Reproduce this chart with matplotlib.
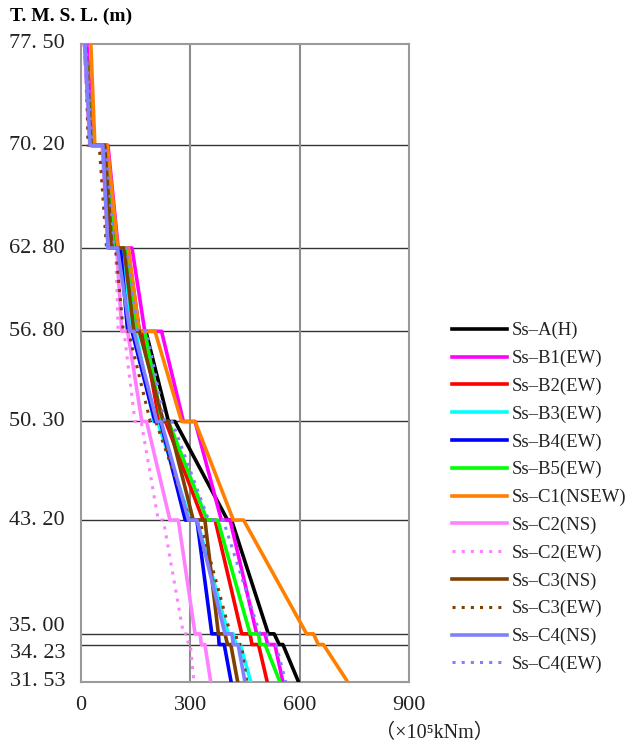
import matplotlib
matplotlib.use("Agg")
import matplotlib.pyplot as plt
from matplotlib.transforms import offset_copy

FONT = ['Liberation Serif', 'Noto Sans CJK JP', 'DejaVu Sans']
plt.rcParams['font.family'] = FONT

# Elevation levels (T.M.S.L., m)
levels = [77.50, 70.20, 62.80, 56.80, 50.30, 43.20, 35.00, 34.23, 31.53]
level_labels = ["77. 50", "70. 20", "62. 80", "56. 80", "50. 30", "43. 20", "35. 00", "34. 23", "31. 53"]

# Profile points: top, then (before step, after step) at each intermediate level, then bottom
elev = [77.50, 70.20, 70.20, 62.80, 62.80, 56.80, 56.80, 50.30, 50.30,
        43.20, 43.20, 35.00, 35.00, 34.23, 34.23, 31.53]

names = ["Ss–A(H)", "Ss–B1(EW)", "Ss–B2(EW)", "Ss–B3(EW)", "Ss–B4(EW)",
         "Ss–B5(EW)", "Ss–C1(NSEW)", "Ss–C2(NS)", "Ss–C2(EW)",
         "Ss–C3(NS)", "Ss–C3(EW)", "Ss–C4(NS)", "Ss–C4(EW)"]

ss_a   = [12, 30, 70, 95, 128, 160, 178, 240, 258, 402, 413, 514, 530, 544, 554, 597]
ss_b1  = [16, 34, 74, 102, 140, 175, 221, 281, 313, 385, 409, 482, 505, 512, 532, 554]
ss_b2  = [12, 28, 66, 88, 120, 150, 170, 215, 232, 335, 368, 441, 464, 469, 487, 511]
ss_b3  = [10, 26, 62, 82, 112, 140, 150, 200, 210, 300, 318, 404, 418, 425, 437, 466]
ss_b4  = [10, 25, 60, 80, 108, 128, 140, 203, 218, 286, 318, 359, 377, 379, 393, 412]
ss_b5  = [12, 29, 68, 90, 124, 152, 175, 222, 240, 346, 375, 464, 487, 491, 505, 546]
ss_c1  = [27, 38, 72, 101, 130, 160, 203, 276, 313, 418, 446, 619, 638, 651, 665, 732]
ss_c2n = [10, 24, 58, 75, 98, 112, 128, 167, 180, 244, 267, 313, 327, 330, 340, 356]
ss_c2e = [8, 22, 55, 72, 95, 102, 118, 148, 165, 212, 226, 281, 290, 295, 300, 310]
ss_c3n = [12, 28, 65, 85, 118, 145, 160, 226, 240, 308, 340, 377, 395, 402, 411, 430]
ss_c3e = [14, 19, 50, 70, 95, 116, 130, 190, 205, 300, 325, 410, 425, 430, 440, 455]
ss_c4n = [11, 25, 60, 74, 100, 134, 145, 208, 220, 295, 318, 395, 414, 418, 431, 450]
ss_c4e = [14, 30, 68, 92, 126, 155, 180, 230, 250, 350, 390, 491, 510, 515, 535, 562]

series = [ss_a, ss_b1, ss_b2, ss_b3, ss_b4, ss_b5, ss_c1, ss_c2n, ss_c2e,
          ss_c3n, ss_c3e, ss_c4n, ss_c4e]
colors = ["#000000", "#FF00FF", "#FF0000", "#00FFFF", "#0000FF", "#00FF00", "#FF8000",
          "#FF80FF", "#FF80FF", "#804000", "#804000", "#8080FF", "#8080FF"]
dotted = [False, False, False, False, False, False, False, False, True,
          False, True, False, True]

xticks = [0, 300, 600, 900]

fig = plt.figure(figsize=(6.28, 7.47), dpi=100)
ax = fig.add_axes([81/628, 1-682/747, 328/628, 638/747])

ax.set_xlim(0, 900)
ax.set_ylim(31.53, 77.50)

for lv in levels[1:-1]:
    ax.axhline(lv, color="#333333", lw=1.0, zorder=1)
for xv in xticks[1:-1]:
    ax.axvline(xv, color="#8c8c8c", lw=1.5, zorder=1)

for vals, c, d, n in zip(series, colors, dotted, names):
    if d:
        ax.plot(vals, elev, color=c, lw=2.2, linestyle=(0, (1, 2)), label=n, zorder=3)
    else:
        ax.plot(vals, elev, color=c, lw=2.6, label=n, zorder=3)

for s in ax.spines.values():
    s.set_color("#9a9a9a")
    s.set_linewidth(1.5)

# y labels drawn as text so the two close ones can be spread apart
ax.set_yticks(levels)
ax.set_yticklabels([])
ax.tick_params(axis='y', length=0)
label_shift = {35.00: 7, 34.23: -9}  # pixels (up positive)
for lv, lab in zip(levels, level_labels):
    tr = offset_copy(ax.get_yaxis_transform(), fig=fig, x=-16, y=label_shift.get(lv, 0),
                     units='dots')
    ax.text(0, lv, lab, transform=tr, ha='right', va='center', fontsize=16,
            family=FONT, color="#222222")

ax.set_xticks(xticks)
ax.set_xticklabels([str(v) for v in xticks], fontsize=16, family=FONT, color="#222222")
ax.tick_params(axis='x', length=0, pad=10)

fig.text(10/628, 1-16/747, "T. M. S. L. (m)", fontsize=14, fontweight='bold',
         family=FONT, ha='left', va='center')
fig.text(434/628, 1-733/747, "（×10⁵kNm）", fontsize=14.5, family=FONT,
         ha='center', va='center', color="#222222")

leg = ax.legend(loc='upper left', bbox_to_anchor=(452/628, 1-322/747),
                bbox_transform=fig.transFigure, frameon=False, fontsize=13.5,
                handlelength=2.95, handletextpad=0.25, labelspacing=0.56,
                borderpad=0.0, borderaxespad=0.0)
for t in leg.get_texts():
    t.set_family(FONT)
    t.set_color("#222222")

fig.savefig("out.png", dpi=100)
